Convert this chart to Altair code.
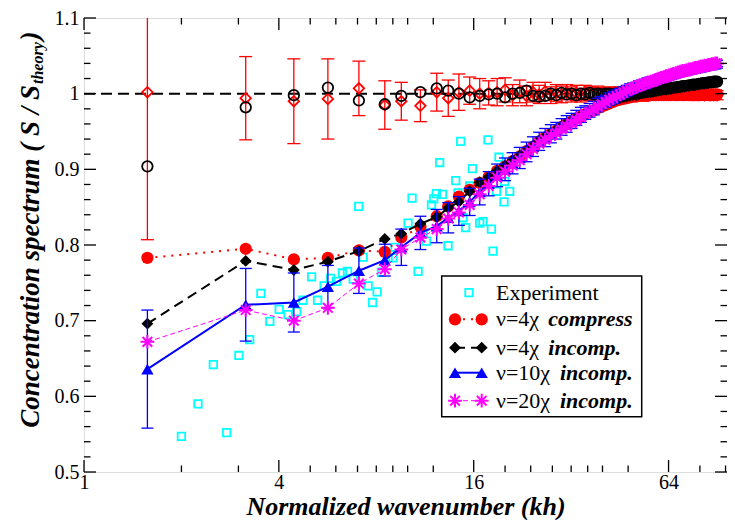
import altair as alt
import pandas as pd

# ---------------- data ----------------
K = [1.57, 3.16, 4.45, 5.67, 7.07, 8.5, 9.56, 10.95, 12.3, 13.35, 14.4, 15.55, 16.7, 17.8, 18.9,
     20.0, 21.1, 22.2, 23.3, 24.4, 25.5, 26.6, 27.7, 28.8, 29.9,
     31.0, 32.1, 33.2, 34.3, 35.4, 36.5, 37.6, 38.7, 39.8, 40.9,
     42.0, 43.1, 44.2, 45.3, 46.4, 47.5, 48.6, 49.7, 50.8, 51.9,
     53.0, 54.1, 55.2, 56.3, 57.4, 58.5, 59.6, 60.7, 61.8, 62.9,
     64.0, 65.1, 66.2, 67.3, 68.4, 69.5, 70.6, 71.7, 72.8, 73.9,
     75.0, 76.1, 77.2, 78.3, 79.4, 80.5, 81.6, 82.7, 83.8, 84.9,
     86.0, 87.1, 88.2, 89.3, 90.4]

# red hollow diamonds (ratio, compressible) with error bars
RATIO_C = [1.002, 0.994, 0.990, 0.993, 1.007, 0.985, 0.990, 0.984, 1.002, 0.994, 1.002, 1.004, 1.000, 1.001, 1.002,
           1.005, 0.998, 1.003, 0.997, 1.002, 0.999, 1.003, 0.998, 1.001, 0.999,
           1.002, 0.999, 1.001, 0.998, 1.002, 1.000, 0.999, 1.001, 1.000, 0.999,
           1.001, 1.000, 0.999, 1.001, 1.000, 0.999, 1.000, 1.001, 1.000, 0.999,
           1.000, 0.999, 1.000, 1.000, 0.999, 1.000, 0.999, 1.000, 0.999, 1.000,
           0.999, 1.000, 0.999, 0.999, 1.000, 0.999, 0.999, 1.000, 0.999, 0.999,
           0.999, 0.998, 0.999, 0.999, 0.998, 0.999, 0.999, 0.998, 0.999, 0.999,
           0.998, 0.999, 0.998, 0.999, 0.998]
RATIO_C_ERR = [0.195, 0.055, 0.056, 0.053, 0.036, 0.032, 0.025, 0.021, 0.025, 0.024, 0.024, 0.018, 0.020, 0.016, 0.018,
               0.016, 0.014, 0.015, 0.013, 0.013, 0.012, 0.012, 0.011, 0.011, 0.011,
               0.010, 0.010, 0.010, 0.009, 0.009, 0.009, 0.009, 0.009, 0.008, 0.008,
               0.008, 0.008, 0.008, 0.008, 0.007, 0.007, 0.007, 0.007, 0.007, 0.007,
               0.007, 0.007, 0.007, 0.006, 0.006, 0.006, 0.006, 0.006, 0.006, 0.006,
               0.006, 0.006, 0.006, 0.006, 0.006, 0.006, 0.006, 0.006, 0.006, 0.006,
               0.006, 0.006, 0.006, 0.006, 0.006, 0.006, 0.006, 0.006, 0.006, 0.006,
               0.006, 0.006, 0.006, 0.006, 0.006]

# black hollow circles (ratio, incompressible)
RATIO_I = [0.904, 0.982, 0.998, 1.008, 0.991, 0.986, 0.997, 1.002, 1.007, 1.004, 1.000, 0.995, 0.997, 0.999, 1.000,
           0.995, 1.000, 1.001, 1.004, 0.997, 0.996, 0.997, 1.000, 0.998, 1.001,
           0.999, 1.000, 0.998, 1.000, 0.999, 1.001, 0.999, 1.000, 0.999, 1.000,
           1.000, 0.999, 1.000, 1.000, 1.000, 1.001, 1.001, 1.001, 1.002, 1.002,
           1.002, 1.003, 1.003, 1.004, 1.004, 1.005, 1.005, 1.005, 1.006, 1.006,
           1.007, 1.007, 1.008, 1.008, 1.009, 1.009, 1.010, 1.010, 1.010, 1.011,
           1.011, 1.012, 1.012, 1.012, 1.013, 1.013, 1.014, 1.014, 1.014, 1.015,
           1.015, 1.015, 1.016, 1.016, 1.016]

# nu=4chi compress (red filled circles, dotted)
NU4_COMP = [0.783, 0.795, 0.781, 0.783, 0.793, 0.791, 0.810, 0.824, 0.838, 0.851, 0.864, 0.873, 0.882, 0.890, 0.898,
            0.904, 0.911, 0.917, 0.924, 0.930, 0.937, 0.942, 0.947, 0.951, 0.956,
            0.960, 0.963, 0.967, 0.970, 0.973, 0.976, 0.978, 0.981, 0.983, 0.985,
            0.987, 0.989, 0.991, 0.992, 0.993, 0.994, 0.995, 0.996, 0.996, 0.997,
            0.997, 0.997, 0.997, 0.998, 0.998, 0.998, 0.998, 0.998, 0.998, 0.998,
            0.998, 0.998, 0.999, 0.998, 0.998, 0.999, 0.998, 0.998, 0.999, 0.998,
            0.998, 0.999, 0.998, 0.998, 0.999, 0.998, 0.999, 0.998, 0.999, 0.998,
            0.999, 0.998, 0.999, 0.998, 0.999]

# nu=4chi incomp (black filled diamonds, dashed)
NU4_INC = [0.696, 0.779, 0.767, 0.778, 0.792, 0.808, 0.815, 0.828, 0.837, 0.849, 0.857, 0.871, 0.883, 0.890, 0.898,
           0.905, 0.912, 0.918, 0.925, 0.931, 0.938, 0.943, 0.948, 0.952, 0.957,
           0.961, 0.964, 0.968, 0.971, 0.974, 0.977, 0.979, 0.982, 0.984, 0.986,
           0.989, 0.991, 0.993, 0.994, 0.995, 0.996, 0.997, 0.998, 0.998, 0.999,
           1.000, 1.001, 1.001, 1.002, 1.002, 1.003, 1.004, 1.004, 1.005, 1.005,
           1.006, 1.006, 1.007, 1.007, 1.008, 1.008, 1.009, 1.009, 1.010, 1.010,
           1.011, 1.011, 1.011, 1.012, 1.012, 1.013, 1.013, 1.013, 1.014, 1.014,
           1.015, 1.015, 1.015, 1.016, 1.016]

# nu=10chi incomp (blue triangles, solid, error bars)
NU10_INC = [0.636, 0.721, 0.724, 0.745, 0.766, 0.780, 0.797, 0.816, 0.825, 0.836, 0.845, 0.857, 0.870, 0.881, 0.892,
            0.900, 0.908, 0.915, 0.923, 0.930, 0.937, 0.942, 0.947, 0.951, 0.956,
            0.960, 0.964, 0.968, 0.972, 0.975, 0.978, 0.981, 0.985, 0.988, 0.990,
            0.993, 0.995, 0.998, 1.000, 1.002, 1.004, 1.006, 1.008, 1.009, 1.011,
            1.012, 1.013, 1.015, 1.016, 1.017, 1.018, 1.020, 1.021, 1.022, 1.023,
            1.024, 1.025, 1.026, 1.027, 1.028, 1.029, 1.029, 1.030, 1.031, 1.032,
            1.032, 1.033, 1.033, 1.034, 1.035, 1.035, 1.036, 1.036, 1.037, 1.037,
            1.038, 1.038, 1.039, 1.039, 1.040]
NU10_ERR = [0.078, 0.048, 0.039, 0.028, 0.030, 0.021, 0.024, 0.022, 0.022, 0.020, 0.019, 0.018, 0.017, 0.016, 0.015,
            0.015, 0.014, 0.014, 0.013, 0.013, 0.012, 0.012, 0.012, 0.011, 0.011,
            0.011, 0.010, 0.010, 0.010, 0.009, 0.009, 0.009, 0.009, 0.008, 0.008,
            0.008, 0.008, 0.007, 0.007, 0.007, 0.007, 0.007, 0.006, 0.006, 0.006,
            0.006, 0.006, 0.006, 0.006, 0.005, 0.005, 0.005, 0.005, 0.005, 0.005,
            0.005, 0.005, 0.005, 0.005, 0.005, 0.004, 0.004, 0.004, 0.004, 0.004,
            0.004, 0.004, 0.004, 0.004, 0.004, 0.004, 0.004, 0.004, 0.004, 0.004,
            0.004, 0.004, 0.004, 0.004, 0.004]

# nu=20chi incomp (magenta asterisks, thin dashed)
NU20_INC = [0.672, 0.714, 0.700, 0.717, 0.749, 0.768, 0.794, 0.810, 0.821, 0.835, 0.843, 0.853, 0.867, 0.878, 0.889,
            0.897, 0.905, 0.912, 0.920, 0.927, 0.934, 0.939, 0.944, 0.948, 0.953,
            0.957, 0.961, 0.965, 0.969, 0.973, 0.976, 0.979, 0.983, 0.986, 0.989,
            0.992, 0.994, 0.997, 0.999, 1.001, 1.004, 1.006, 1.007, 1.009, 1.011,
            1.012, 1.013, 1.015, 1.016, 1.017, 1.018, 1.020, 1.021, 1.022, 1.023,
            1.024, 1.025, 1.026, 1.027, 1.028, 1.029, 1.030, 1.030, 1.031, 1.032,
            1.032, 1.033, 1.034, 1.034, 1.035, 1.036, 1.036, 1.037, 1.037, 1.038,
            1.038, 1.039, 1.039, 1.040, 1.040]

# experiment (cyan squares)
EXP_K = [2.0, 2.25, 2.51, 2.76, 3.01, 3.25, 3.52, 3.75, 4.01, 4.27, 4.54, 4.75, 5.05, 5.27, 5.52,
         5.78, 6.03, 6.29, 6.52, 6.79, 7.06, 7.29, 7.55, 7.79, 8.05, 8.30, 8.70, 9.01, 9.14, 10.03,
         10.32, 10.77, 11.16, 11.43, 11.85, 12.04, 12.27, 12.56, 12.81, 13.33, 14.08, 14.31, 14.59, 14.83, 15.11,
         15.55, 15.85, 16.70, 17.09, 17.71, 18.15, 18.36, 18.81, 19.15, 19.85, 19.95, 20.67]
EXP_V = [0.547, 0.590, 0.642, 0.552, 0.654, 0.675, 0.736, 0.699, 0.715, 0.708, 0.712, 0.727, 0.758, 0.727, 0.746,
         0.756, 0.752, 0.763, 0.765, 0.755, 0.851, 0.784, 0.746, 0.724, 0.738, 0.764, 0.783, 0.783, 0.797, 0.829,
         0.862, 0.765, 0.816, 0.805, 0.853, 0.861, 0.868, 0.909, 0.867, 0.799, 0.885, 0.869, 0.937, 0.836, 0.823,
         0.878, 0.901, 0.829, 0.831, 0.939, 0.821, 0.792, 0.871, 0.916, 0.857, 0.884, 0.871]

X_MAJOR = [1, 4, 16, 64]
X_MINOR = [2, 3, 5, 6, 7, 8, 9, 10, 12, 20, 24, 28, 32, 36, 40, 48, 80, 96]
Y_MAJOR = [0.5, 0.6, 0.7, 0.8, 0.9, 1.0, 1.1]
Y_MINOR = [round(0.5 + 0.02 * i, 2) for i in range(31) if i % 5 != 0]

# ---------------- layout ----------------
W, H = 643, 454
FONT = "Liberation Serif"
RED, BLACK, BLUE, MAG, CYAN = "#ff0000", "#000000", "#0000ff", "#ff00ff", "#00ffff"
STAR = "M0,-1L0,1M-1,0L1,0M-0.7,-0.7L0.7,0.7M-0.7,0.7L0.7,-0.7"

xs = alt.Scale(type="log", base=2, domain=[1, 97], nice=False)
ys = alt.Scale(domain=[0.5, 1.1], nice=False, zero=False)

xaxis = alt.Axis(values=X_MAJOR, format="d", ticks=False, tickSize=0, domain=False, grid=False,
                 labelFont=FONT, labelFontSize=20, labelColor="black", labelBaseline="alphabetic",
                 labelPadding=16, labelFlush=False, labelOverlap=False,
                 title="Normalized wavenumber (kh)", titleFont=FONT, titleFontSize=26,
                 titleFontStyle="italic", titleFontWeight="bold", titleColor="black",
                 titleBaseline="alphabetic", titleY=42)
yaxis = alt.Axis(values=Y_MAJOR, format="~g", ticks=False, tickSize=0, domain=False, grid=False,
                 labelFont=FONT, labelFontSize=20, labelColor="black", labelPadding=5,
                 labelFlush=False, labelOverlap=False, title=None)


def frame(vals, err=None):
    d = {"k": K, "v": vals}
    if err is not None:
        d["err"] = err
    df = pd.DataFrame(d)
    if err is not None:
        df["lo"] = df["v"] - df["err"]
        df["hi"] = df["v"] + df["err"]
    return df


dfA = frame(RATIO_C, RATIO_C_ERR)
dfB = frame(RATIO_I)
dfC = frame(NU4_COMP)
dfD = frame(NU4_INC)
dfE = frame(NU10_INC, NU10_ERR)
dfF = frame(NU20_INC)
dfX = pd.DataFrame({"k": EXP_K, "v": EXP_V})

X = alt.X("k:Q", scale=xs, axis=xaxis)
Y = alt.Y("v:Q", scale=ys, axis=yaxis)

layers = []
one = pd.DataFrame({"_": [0]})

# y = 1 reference line
layers.append(alt.Chart(one).mark_rule(color=BLACK, strokeWidth=2, strokeDash=[11, 6]).encode(
    y=alt.Y(datum=1.0, scale=ys, axis=yaxis), x=alt.value(0), x2=alt.value(W)))

# experiment
layers.append(alt.Chart(dfX).mark_point(shape="square", filled=False, stroke=CYAN, strokeWidth=1.8,
                                        size=56, opacity=1, clip=True).encode(x=X, y=Y))


def errbars(df, color, cap, width):
    ylo = alt.Y("lo:Q", scale=ys, axis=yaxis)
    yhi = alt.Y("hi:Q", scale=ys, axis=yaxis)
    rule = alt.Chart(df).mark_rule(color=color, strokeWidth=width, clip=True).encode(
        x=X, y=ylo, y2="hi:Q")
    lo = alt.Chart(df).mark_tick(orient="horizontal", size=cap, thickness=width, color=color,
                                 opacity=1, clip=True).encode(x=X, y=ylo)
    hi = alt.Chart(df).mark_tick(orient="horizontal", size=cap, thickness=width, color=color,
                                 opacity=1, clip=True).encode(x=X, y=yhi)
    return [rule, lo, hi]


# red ratio with error bars
layers += errbars(dfA, RED, 13, 1.3)
layers.append(alt.Chart(dfA).mark_point(shape="diamond", filled=False, stroke=RED, strokeWidth=1.8,
                                        size=110, opacity=1, clip=True).encode(x=X, y=Y))
# black ratio
layers.append(alt.Chart(dfB).mark_point(shape="circle", filled=False, stroke=BLACK, strokeWidth=1.8,
                                        size=110, opacity=1, clip=True).encode(x=X, y=Y))
# nu=4 compress
layers.append(alt.Chart(dfC).mark_line(color=RED, strokeWidth=2, strokeDash=[2, 6], clip=True).encode(x=X, y=Y))
layers.append(alt.Chart(dfC).mark_point(shape="circle", filled=True, fill=RED, size=150, opacity=1,
                                        clip=True).encode(x=X, y=Y))
# nu=4 incomp
layers.append(alt.Chart(dfD).mark_line(color=BLACK, strokeWidth=2, strokeDash=[10, 6], clip=True).encode(x=X, y=Y))
layers.append(alt.Chart(dfD).mark_point(shape="diamond", filled=True, fill=BLACK, size=140, opacity=1,
                                        clip=True).encode(x=X, y=Y))
# nu=10 incomp
layers += errbars(dfE, BLUE, 12, 1.3)
layers.append(alt.Chart(dfE).mark_line(color=BLUE, strokeWidth=2, clip=True).encode(x=X, y=Y))
layers.append(alt.Chart(dfE).mark_point(shape="triangle-up", filled=True, fill=BLUE, size=150, opacity=1,
                                        clip=True).encode(x=X, y=Y))
# nu=20 incomp
layers.append(alt.Chart(dfF).mark_line(color=MAG, strokeWidth=1, strokeDash=[5, 3], clip=True).encode(x=X, y=Y))
layers.append(alt.Chart(dfF).mark_point(shape=STAR, filled=False, stroke=MAG, strokeWidth=2, size=190,
                                        opacity=1, clip=True).encode(x=X, y=Y))

# inward ticks on all four sides
tx_maj = pd.DataFrame({"k": X_MAJOR})
tx_min = pd.DataFrame({"k": X_MINOR})
ty_maj = pd.DataFrame({"v": Y_MAJOR})
ty_min = pd.DataFrame({"v": Y_MINOR})
for df, ln in ((tx_maj, 12), (tx_min, 6.5)):
    layers.append(alt.Chart(df).mark_rule(color=BLACK, strokeWidth=1.3).encode(
        x=X, y=alt.value(H), y2=alt.value(H - ln)))
    layers.append(alt.Chart(df).mark_rule(color=BLACK, strokeWidth=1.3).encode(
        x=X, y=alt.value(0), y2=alt.value(ln)))
for df, ln in ((ty_maj, 12), (ty_min, 6.5)):
    layers.append(alt.Chart(df).mark_rule(color=BLACK, strokeWidth=1.3).encode(
        y=Y, x=alt.value(0), x2=alt.value(ln)))
    layers.append(alt.Chart(df).mark_rule(color=BLACK, strokeWidth=1.3).encode(
        y=Y, x=alt.value(W - ln), x2=alt.value(W)))

# ---------------- legend ----------------
layers.append(alt.Chart(one).mark_rect(fill="white", stroke=BLACK, strokeWidth=1.5).encode(
    x=alt.value(357.7), x2=alt.value(557.7), y=alt.value(258), y2=alt.value(398.7)))

ROWS = [274.7, 301.3, 329.7, 354.7, 382.7]
LX0, LX1, LXC, TX0 = 371, 397.7, 385, 412


def sym(x, y, **kw):
    return alt.Chart(one).mark_point(opacity=1, **kw).encode(x=alt.value(x), y=alt.value(y))


def seg(y, **kw):
    return alt.Chart(one).mark_rule(**kw).encode(x=alt.value(LX0), x2=alt.value(LX1), y=alt.value(y))


def txt(x, y, s, **kw):
    return alt.Chart(one).mark_text(text=s, align="left", baseline="middle", font=FONT, fontSize=22,
                                    color=BLACK, **kw).encode(x=alt.value(x), y=alt.value(y))


layers.append(sym(LXC, ROWS[0], shape="square", filled=False, stroke=CYAN, strokeWidth=1.8, size=56))
layers.append(txt(TX0, ROWS[0], "Experiment"))

layers.append(seg(ROWS[1], color=RED, strokeWidth=2, strokeDash=[2, 6]))
for xx in (LX0, LX1):
    layers.append(sym(xx, ROWS[1], shape="circle", filled=True, fill=RED, size=150))
layers.append(txt(TX0, ROWS[1], "ν=4χ"))
layers.append(txt(464.3, ROWS[1], "compress", fontStyle="italic", fontWeight="bold"))

layers.append(seg(ROWS[2], color=BLACK, strokeWidth=2, strokeDash=[10, 6]))
for xx in (LX0, LX1):
    layers.append(sym(xx, ROWS[2], shape="diamond", filled=True, fill=BLACK, size=140))
layers.append(txt(TX0, ROWS[2], "ν=4χ"))
layers.append(txt(464.3, ROWS[2], "incomp.", fontStyle="italic", fontWeight="bold"))

layers.append(seg(ROWS[3], color=BLUE, strokeWidth=2))
for xx in (LX0, LX1):
    layers.append(sym(xx, ROWS[3], shape="triangle-up", filled=True, fill=BLUE, size=150))
layers.append(txt(TX0, ROWS[3], "ν=10χ"))
layers.append(txt(476, ROWS[3], "incomp.", fontStyle="italic", fontWeight="bold"))

layers.append(seg(ROWS[4], color=MAG, strokeWidth=1, strokeDash=[5, 3]))
for xx in (LX0, LX1):
    layers.append(sym(xx, ROWS[4], shape=STAR, filled=False, stroke=MAG, strokeWidth=2, size=190))
layers.append(txt(TX0, ROWS[4], "ν=20χ"))
layers.append(txt(476, ROWS[4], "incomp.", fontStyle="italic", fontWeight="bold"))

# ---------------- y-axis title with subscript ----------------
TSTYLE = dict(font=FONT, fontStyle="italic", fontWeight="bold", color=BLACK, angle=270,
              baseline="alphabetic")
layers.append(alt.Chart(one).mark_text(text="Concentration spectrum  ( S / S", align="right",
                                       fontSize=27, **TSTYLE).encode(x=alt.value(-45), y=alt.value(67)))
layers.append(alt.Chart(one).mark_text(text="theory", align="left", fontSize=16, **TSTYLE).encode(
    x=alt.value(-41), y=alt.value(66)))
layers.append(alt.Chart(one).mark_text(text=")", align="center", fontSize=27, **TSTYLE).encode(
    x=alt.value(-45), y=alt.value(18)))

chart = alt.layer(*layers).properties(
    width=W, height=H,
    autosize=alt.AutoSizeParams(type="none"),
    padding={"left": 76, "top": 10, "right": 0, "bottom": 48},
).configure_view(stroke=BLACK, strokeWidth=2).configure(background="white")

chart.save("out.html", embed_options={"renderer": "svg", "actions": False})
